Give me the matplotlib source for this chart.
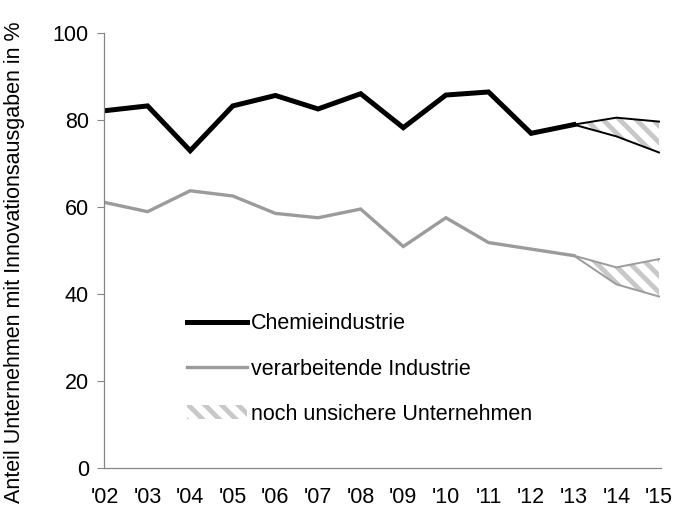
from matplotlib import pyplot as plt
from matplotlib.patches import Patch
from matplotlib.lines import Line2D
import numpy as np

# years shown on the x axis
years = ["'02", "'03", "'04", "'05", "'06", "'07", "'08", "'09", "'10", "'11", "'12", "'13", "'14", "'15"]

# share of firms with innovation expenditure (%), 2002-2013
chemie = [82.1, 83.2, 72.9, 83.2, 85.6, 82.5, 86.0, 78.2, 85.7, 86.4, 76.9, 78.9]
verarbeitend = [61.0, 58.9, 63.7, 62.5, 58.5, 57.5, 59.5, 50.9, 57.5, 51.8, 50.3, 48.8]

# range for 2013-2015 (uncertain firms)
chemie_upper = [78.9, 80.5, 79.6]
chemie_lower = [78.9, 76.2, 72.5]
verarb_upper = [48.8, 46.1, 48.0]
verarb_lower = [48.8, 42.2, 39.4]

plt.rcParams['font.family'] = ['Liberation Sans', 'DejaVu Sans']
plt.rcParams['hatch.linewidth'] = 3.5

hatch_col = '#c8c8c8'
gray = '#9b9b9b'
fs = 15.5

fig = plt.figure(figsize=(6.76, 5.15), dpi=100)
ax = fig.add_axes([0.154, 0.0913, 0.824, 0.845])

x = np.arange(len(years))
x_hist = x[:len(chemie)]
x_fc = x[len(chemie) - 1:]

# hatched band of uncertain values
ax.fill_between(x_fc, chemie_lower, chemie_upper, facecolor='none', edgecolor=hatch_col,
                hatch='\\\\', linewidth=0)
ax.fill_between(x_fc, verarb_lower, verarb_upper, facecolor='none', edgecolor=hatch_col,
                hatch='\\\\', linewidth=0)

ax.plot(x_hist, chemie, color='black', linewidth=3.6, solid_joinstyle='miter')
ax.plot(x_hist, verarbeitend, color=gray, linewidth=2.4, solid_joinstyle='miter')

ax.plot(x_fc, chemie_upper, color='black', linewidth=1.4)
ax.plot(x_fc, chemie_lower, color='black', linewidth=1.4)
ax.plot(x_fc, verarb_upper, color=gray, linewidth=1.4)
ax.plot(x_fc, verarb_lower, color=gray, linewidth=1.4)

ax.set_xlim(-0.02, 13.05)
ax.set_ylim(0, 100)
ax.set_xticks(x)
ax.set_xticklabels(years)
ax.set_yticks([0, 20, 40, 60, 80, 100])
ax.tick_params(axis='x', length=0, labelsize=fs, pad=14)
ax.tick_params(axis='y', length=5, width=0.8, color='#868686', labelsize=fs, pad=6)

for s in ['top', 'right']:
    ax.spines[s].set_visible(False)
for s in ['left', 'bottom']:
    ax.spines[s].set_color('#868686')
    ax.spines[s].set_linewidth(0.9)

fig.text(0.022, 0.49, 'Anteil Unternehmen mit Innovationsausgaben in %', rotation=90,
         va='center', ha='center', fontsize=fs)

handles = [Line2D([], [], color='black', linewidth=3.6),
           Line2D([], [], color=gray, linewidth=2.4),
           Patch(facecolor='none', edgecolor=hatch_col, hatch='\\\\', linewidth=0)]
labels = ['Chemieindustrie', 'verarbeitende Industrie', 'noch unsichere Unternehmen']
ax.legend(handles, labels, loc='upper left', bbox_to_anchor=(0.148, 0.355), frameon=False,
          fontsize=fs, handlelength=2.8, handleheight=0.6, handletextpad=0.2,
          labelspacing=1.12, borderpad=0, borderaxespad=0)

plt.savefig('out.png', dpi=100)
